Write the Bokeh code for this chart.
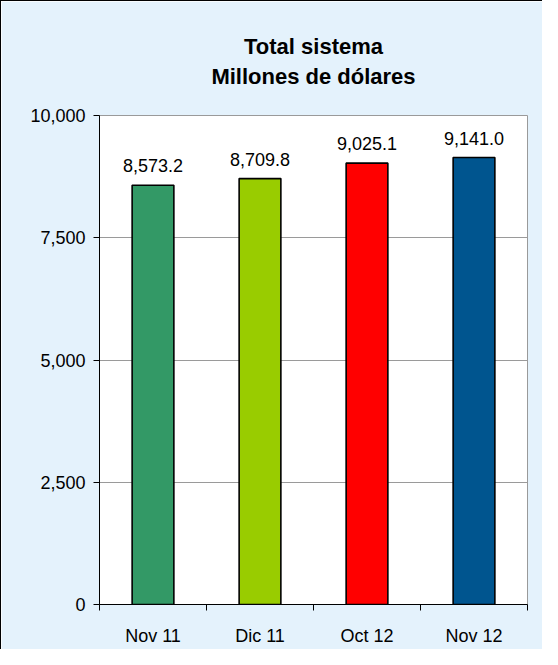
from bokeh.plotting import figure
from bokeh.models import FixedTicker, NumeralTickFormatter, Range1d, ColumnDataSource, Title
from bokeh.core.properties import value
from bokeh.embed import file_html
from bokeh.resources import INLINE

categories = ["Nov 11", "Dic 11", "Oct 12", "Nov 12"]
values = [8573.2, 8709.8, 9025.1, 9141.0]
colors = ["#339966", "#99cc00", "#ff0000", "#00558f"]
y_ticks = [0, 2500, 5000, 7500, 10000]
title_lines = ["Total sistema", "Millones de dólares"]

FONT = "Liberation Sans"

xs = [i + 0.5 for i in range(len(categories))]
src = ColumnDataSource(dict(
    x=xs, top=values, color=colors,
    label=[f"{v:,.1f}" for v in values],
))

p = figure(width=542, height=649, output_backend="svg", toolbar_location=None,
           x_range=Range1d(0, len(categories)), y_range=Range1d(0, 10000),
           min_border_left=98, min_border_right=16, min_border_top=114,
           min_border_bottom=46)
p.styles = {"border-left": "1px solid #000000", "border-top": "1px solid #000000"}

p.background_fill_color = "#ffffff"
p.border_fill_color = "#e4f2fc"
p.outline_line_color = "#9a9a9a"
p.outline_line_width = 1

# nearest to the frame first
t2 = Title(text=title_lines[1], align="center", text_font=FONT,
           text_font_size="22px", text_font_style="bold", text_color="#000000",
           standoff=54)
t1 = Title(text=title_lines[0], align="center", text_font=FONT,
           text_font_size="22px", text_font_style="bold", text_color="#000000",
           standoff=-48)
p.add_layout(t2, "above")
p.add_layout(t1, "above")

p.vbar(x="x", top="top", width=0.39, bottom=0, source=src, fill_color="color",
       line_color="#000000", line_width=1.6)

p.text(x="x", y="top", text="label", source=src, text_align="center",
       text_baseline="bottom", y_offset=-13, text_font=value(FONT),
       text_font_size="18px", text_color="#000000")

# y axis
p.yaxis.ticker = FixedTicker(ticks=y_ticks)
p.yaxis.formatter = NumeralTickFormatter(format="0,0")
p.yaxis.major_tick_out = 6
p.yaxis.major_tick_in = 0
p.yaxis.minor_tick_line_color = None
p.yaxis.axis_line_color = "#000000"
p.yaxis.major_tick_line_color = "#000000"
p.yaxis.major_label_text_font = FONT
p.yaxis.major_label_text_font_size = "18px"
p.yaxis.major_label_text_color = "#000000"
p.yaxis.major_label_standoff = 8

# x axis
p.xaxis.ticker = FixedTicker(ticks=xs, minor_ticks=list(range(len(categories) + 1)))
p.xaxis.major_label_overrides = {x: c for x, c in zip(xs, categories)}
p.xaxis.major_tick_out = 0
p.xaxis.major_tick_in = 0
p.xaxis.minor_tick_out = 6
p.xaxis.minor_tick_in = 0
p.xaxis.minor_tick_line_color = "#000000"
p.xaxis.axis_line_color = "#000000"
p.xaxis.major_label_text_font = FONT
p.xaxis.major_label_text_font_size = "18px"
p.xaxis.major_label_text_color = "#000000"
p.xaxis.major_label_standoff = 15

p.xgrid.grid_line_color = None
p.ygrid.ticker = FixedTicker(ticks=y_ticks)
p.ygrid.grid_line_color = "#9a9a9a"
p.ygrid.grid_line_width = 1

open("out.html", "w").write(file_html(p, INLINE))
